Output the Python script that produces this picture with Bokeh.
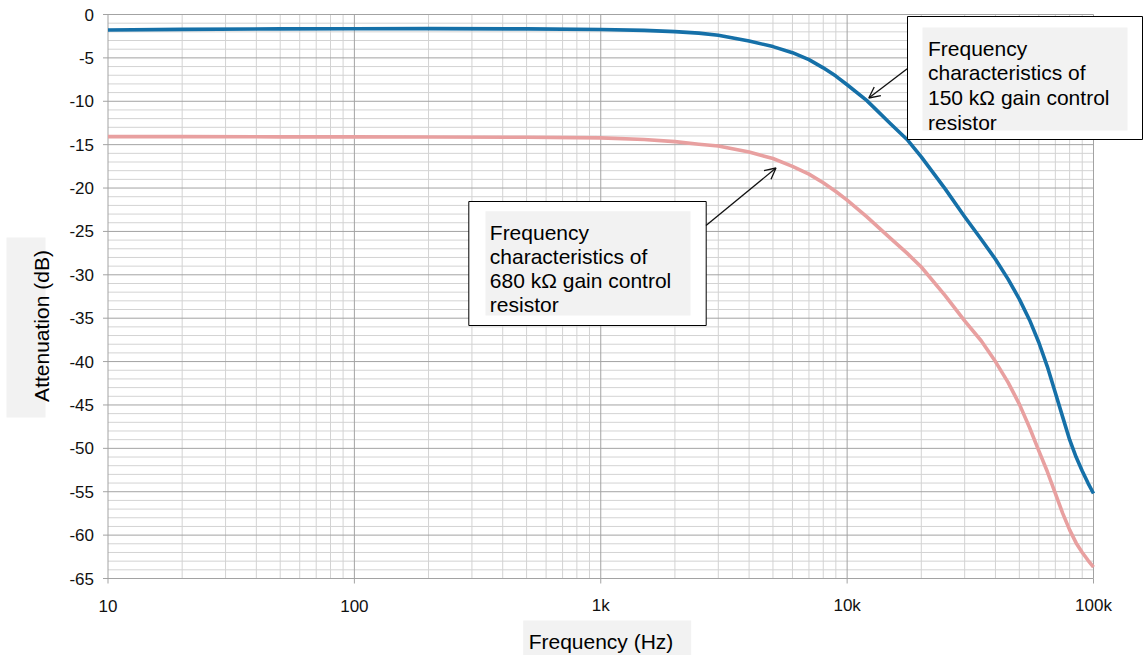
import math
from bokeh.plotting import figure
from bokeh.models import Range1d, Arrow, OpenHead
from bokeh.core.properties import value
from bokeh.embed import file_html
from bokeh.resources import INLINE

# ---- data ----
freq_hz = [10, 20, 50, 100, 200, 500, 1000, 1500, 2000, 2500, 3000, 4000, 5000, 6000,
           7000, 8000, 9000, 10000, 12000, 15000, 17500, 20000, 25000, 30000, 35000,
           40000, 45000, 50000, 55000, 60000, 65000, 70000, 75000, 80000, 85000, 90000,
           95000, 100000]
atten_150k = [-1.78, -1.72, -1.66, -1.64, -1.63, -1.66, -1.73, -1.83, -1.97, -2.15, -2.4,
              -3.05, -3.7, -4.4, -5.2, -6.15, -7.1, -8.1, -9.9, -12.6, -14.4, -16.4,
              -20.1, -23.3, -25.9, -28.2, -30.5, -32.8, -35.2, -37.8, -40.6, -43.6,
              -46.4, -49.0, -51.0, -52.6, -54.0, -55.2]
atten_680k = [-14.07, -14.08, -14.1, -14.1, -14.12, -14.15, -14.22, -14.4, -14.65, -14.95,
              -15.15, -15.85, -16.6, -17.5, -18.4, -19.4, -20.4, -21.4, -23.3, -25.8,
              -27.5, -29.1, -32.4, -35.3, -37.6, -40.0, -42.4, -44.9, -47.6, -50.3,
              -52.7, -55.2, -57.5, -59.4, -60.9, -62.0, -62.9, -63.7]

x_tick_values = [10, 100, 1000, 10000, 100000]
x_tick_labels = ["10", "100", "1k", "10k", "100k"]
x_minor_values = [m * d for d in [10, 100, 1000, 10000] for m in range(2, 10)]
y_tick_values = list(range(-65, 1, 5))
y_tick_labels = [str(v) for v in y_tick_values]
y_minor_values = [v for v in range(-65, 1) if v % 5 != 0]

note_150k = ["Frequency", "characteristics of", "150 k\u03a9 gain control", "resistor"]
note_680k = ["Frequency", "characteristics of", "680 k\u03a9 gain control", "resistor"]
x_title = "Frequency (Hz)"
y_title = "Attenuation (dB)"

# ---- layout (pixels) ----
W, H = 1144, 655
X0_PX, X1_PX = 107.5, 1093.0      # where 10 Hz and 100 kHz sit
Y0_PX, Y1_PX = 14.0, 578.0        # where 0 dB and -65 dB sit
DEC = (X1_PX - X0_PX) / 4.0
PER_DB = (Y1_PX - Y0_PX) / 65.0

def fx(px):
    return 10 ** (1 + (px - X0_PX) / DEC)

def fy(py):
    return -(py - Y0_PX) / PER_DB

FONT = value("Liberation Sans")
BLUE = "#1570A8"
PINK = "#E8A0A0"
MAJOR = "#a3a3a3"
MINOR = "#d3d3d3"
XMIN, XMAX = x_tick_values[0], x_tick_values[-1]
YMIN, YMAX = y_tick_values[0], y_tick_values[-1]

p = figure(width=W, height=H, x_axis_type="log",
           x_range=Range1d(fx(0), fx(W)), y_range=Range1d(fy(H), fy(0)),
           x_axis_location=None, y_axis_location=None,
           output_backend="svg", toolbar_location=None, min_border=0)
p.outline_line_color = None
p.background_fill_color = "white"
p.border_fill_color = "white"
p.xgrid.visible = False
p.ygrid.visible = False

# grid
p.segment(x0=x_minor_values, x1=x_minor_values, y0=[YMIN] * len(x_minor_values),
          y1=[YMAX] * len(x_minor_values), line_color=MINOR, line_width=1)
p.segment(x0=[XMIN] * len(y_minor_values), x1=[XMAX] * len(y_minor_values),
          y0=y_minor_values, y1=y_minor_values, line_color=MINOR, line_width=1)
p.segment(x0=x_tick_values, x1=x_tick_values, y0=[YMIN] * len(x_tick_values),
          y1=[YMAX] * len(x_tick_values), line_color=MAJOR, line_width=1)
p.segment(x0=[XMIN] * len(y_tick_values), x1=[XMAX] * len(y_tick_values),
          y0=y_tick_values, y1=y_tick_values, line_color=MAJOR, line_width=1)

# axis ticks
p.ray(x=[XMIN] * len(y_tick_values), y=y_tick_values, length=5, length_units="screen",
      angle=math.pi, line_color=MAJOR, line_width=1)
p.ray(x=x_tick_values, y=[YMIN] * len(x_tick_values), length=5, length_units="screen",
      angle=-math.pi / 2, line_color=MAJOR, line_width=1)

# tick labels
p.text(x=[XMIN] * len(y_tick_values), y=y_tick_values, text=y_tick_labels,
       x_offset=-14, text_align="right", text_baseline="middle",
       text_font=FONT, text_font_size="17px", text_color="#111111")
p.text(x=x_tick_values, y=[YMIN] * len(x_tick_values), text=x_tick_labels,
       y_offset=27, text_align="center", text_baseline="alphabetic",
       text_font=FONT, text_font_size="17px", text_color="#111111")

# curves
p.line(freq_hz, atten_680k, line_color=PINK, line_width=3.6, line_join="round")
p.line(freq_hz, atten_150k, line_color=BLUE, line_width=3.6, line_join="round")

# axis titles with light background
p.quad(left=fx(6), right=fx(45), top=fy(237), bottom=fy(417),
       fill_color="#f2f2f2", line_color=None)
p.text(x=[fx(41)], y=[fy(325.5)], text=[y_title], angle=math.pi / 2,
       text_align="center", text_baseline="alphabetic",
       text_font=FONT, text_font_size="21px", text_color="black")
p.quad(left=fx(522.7), right=fx(690.7), top=fy(620), bottom=fy(H + 5),
       fill_color="#f2f2f2", line_color=None)
p.text(x=[fx(600.5)], y=[fy(641)], text=[x_title],
       text_align="center", text_baseline="alphabetic",
       text_font=FONT, text_font_size="21px", text_color="black")

def callout(outer, inner, text_x, baselines, lines):
    l, r, t, b = outer
    p.quad(left=fx(l), right=fx(r), top=fy(t), bottom=fy(b),
           fill_color="white", line_color="black", line_width=1)
    l, r, t, b = inner
    p.quad(left=fx(l), right=fx(r), top=fy(t), bottom=fy(b),
           fill_color="#f2f2f2", line_color=None)
    p.text(x=[fx(text_x)] * len(lines), y=[fy(v) for v in baselines], text=lines,
           text_align="left", text_baseline="alphabetic",
           text_font=FONT, text_font_size="21px", text_color="black")

callout((907, 1142, 16, 139), (922, 1127, 27, 130), 927.5,
        [47.7, 72.4, 97.1, 121.8], note_150k)
callout((468.3, 705.7, 201, 325), (485, 690, 210.7, 315), 489.3,
        [231.7, 255.9, 280.1, 304.3], note_680k)

p.add_layout(Arrow(end=OpenHead(size=11, line_width=1.3, line_color="#111111"),
                   x_start=fx(906.7), y_start=fy(68.3), x_end=fx(868.3), y_end=fy(97.5),
                   line_width=1.3, line_color="#111111"))
p.add_layout(Arrow(end=OpenHead(size=11, line_width=1.3, line_color="#111111"),
                   x_start=fx(705.5), y_start=fy(225), x_end=fx(775.5), y_end=fy(167.5),
                   line_width=1.3, line_color="#111111"))

open("out.html", "w").write(file_html(p, INLINE))
